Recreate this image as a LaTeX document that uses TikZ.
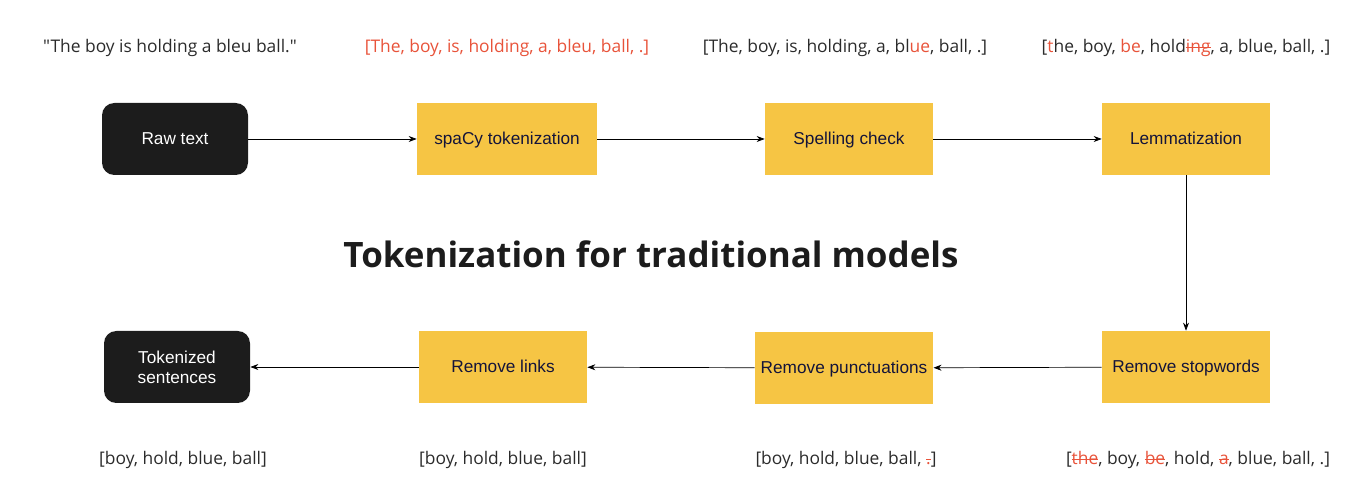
\documentclass[tikz,border=0pt]{standalone}
\usepackage{fontspec}
\usetikzlibrary{arrows.meta}
\setmainfont{Open Sans}[Ligatures=TeXOff]
\newfontfamily\boxfont{Liberation Sans}

\definecolor{stepyellow}{HTML}{F6C544}
\definecolor{termblack}{HTML}{1C1C1C}
\definecolor{fixred}{HTML}{E8533A}
\definecolor{wordgrey}{HTML}{2B2B2B}
\definecolor{labelnavy}{HTML}{14143A}

\newlength{\cutlen}
\newcommand{\fix}[1]{\textcolor{fixred}{#1}}
\newcommand{\cut}[1]{\settowidth{\cutlen}{#1}\textcolor{fixred}{\rlap{\rule[0.27em]{\cutlen}{0.5pt}}#1}}

\tikzset{
  stepbox/.style={fill=stepyellow, minimum width=3.36cm, minimum height=1.44cm,
    text height=1.6ex, text depth=.45ex,
    font=\boxfont\fontsize{9.8}{11.5}\selectfont, text=labelnavy},
  termbox/.style={fill=termblack, rounded corners=7pt, minimum width=2.92cm,
    minimum height=1.44cm, align=center, text=white,
    font=\boxfont\fontsize{9.8}{11.5}\selectfont},
  tokens/.style={font=\fontsize{9.9}{11}\selectfont, text=wordgrey},
  flow/.style={thin, -{Stealth[length=1.6mm, width=1.2mm]}}
}

\begin{document}
\begin{tikzpicture}[x=0.2mm, y=-0.2mm]
  \useasboundingbox (0,0) rectangle (1346,492);

  % Title
  \node[font=\bfseries\fontsize{19.9}{23}\selectfont, text=termblack] (title) at (651,254) {Tokenization for traditional models};

  % Top row
  \node[termbox] (raw) at (175,139) {Raw text};
  \node[stepbox, minimum width=3.6cm] (spacy) at (507,139) {spaCy tokenization};
  \node[stepbox] (spell) at (849,139) {Spelling check};
  \node[stepbox] (lemma) at (1186,139) {Lemmatization};

  % Bottom row
  \node[stepbox] (stop) at (1186,367) {Remove stopwords};
  \node[stepbox, minimum width=3.56cm] (punct) at (844,368) {Remove punctuations};
  \node[stepbox] (links) at (503,367) {Remove links};
  \node[termbox] (done) at (177,367) {Tokenized\\sentences};

  % Connectors
  \draw[flow] (raw) -- (spacy);
  \draw[flow] (spacy) -- (spell);
  \draw[flow] (spell) -- (lemma);
  \draw[flow] (lemma) -- (stop);
  \draw[flow] (stop) -- (punct);
  \draw[flow] (punct) -- (links);
  \draw[flow] (links) -- (done);

  % Tokens above
  \node[tokens] (t1) at (170,48) {"The boy is holding a bleu ball."};
  \node[tokens, text=fixred] (t2) at (507,48) {[The, boy, is, holding, a, bleu, ball, .]};
  \node[tokens] (t3) at (845,48) {[The, boy, is, holding, a, bl\fix{ue}, ball, .]};
  \node[tokens] (t4) at (1186,48) {[\fix{t}he, boy, \fix{be}, hold\cut{ing}, a, blue, ball, .]};

  % Tokens below
  \node[tokens] (b1) at (183,460) {[boy, hold, blue, ball]};
  \node[tokens] (b2) at (503,460) {[boy, hold, blue, ball]};
  \node[tokens] (b3) at (846,460) {[boy, hold, blue, ball, \cut{.}]};
  \node[tokens] (b4) at (1198,460) {[\cut{the}, boy, \cut{be}, hold, \cut{a}, blue, ball, .]};
\end{tikzpicture}
\end{document}
